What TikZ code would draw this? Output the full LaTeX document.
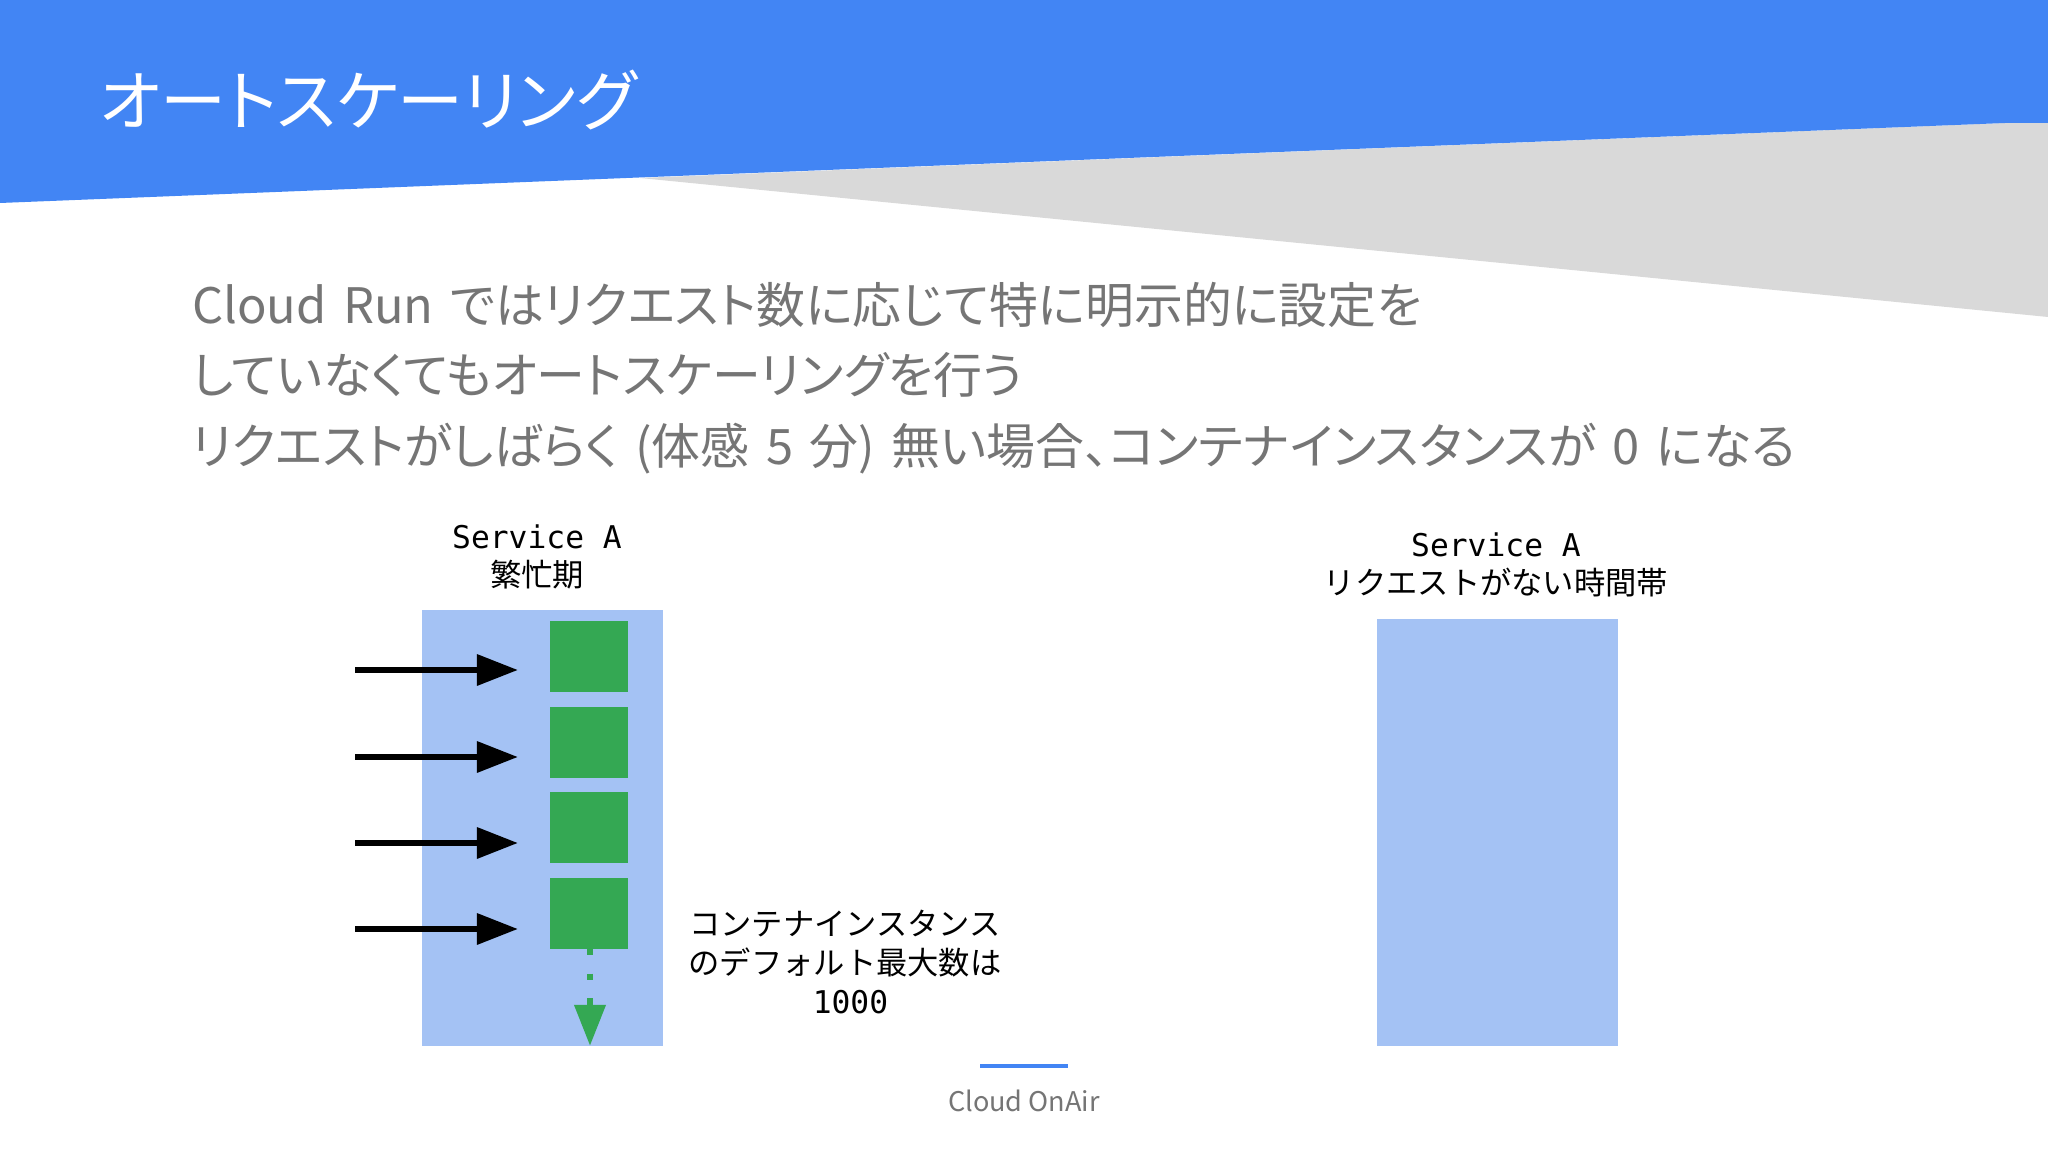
\documentclass[tikz,border=0pt]{standalone}
\usepackage{fontspec}
\usetikzlibrary{arrows.meta}
\setmainfont{Noto Sans CJK JP}
\newfontfamily\monofont{DejaVu Sans Mono}
\newfontfamily\tightfont[RawFeature=+palt]{Noto Sans CJK JP}
\newcommand{\widewords}{\spaceskip=4.7pt\relax}
\definecolor{slideblue}{HTML}{4285F4}
\definecolor{slidegray}{HTML}{D9D9D9}
\definecolor{paleblue}{HTML}{A4C2F4}
\definecolor{boxgreen}{HTML}{34A853}
\definecolor{bodygray}{HTML}{757575}
\tikzset{
  plaintext/.style={inner sep=0pt,outer sep=0pt},
  titletext/.style={plaintext,anchor=west,text=white,font=\tightfont\fontsize{18.8}{22}\selectfont},
  bodytext/.style={plaintext,anchor=west,align=left,text=bodygray,font=\tightfont\fontsize{13.9}{20}\selectfont},
  labeltext/.style={plaintext,align=center,font=\fontsize{8.9}{11}\selectfont},
  servicebox/.style={plaintext,fill=paleblue,anchor=north west},
  instance/.style={plaintext,fill=boxgreen,minimum width=0.78cm,minimum height=0.705cm,anchor=north west},
  request/.style={line width=1.8pt,-{Triangle[length=0.41cm,width=0.3cm]}},
  scaleout/.style={boxgreen,line width=1.9pt,dash pattern=on 1.9pt off 5.2pt,-{Triangle[length=0.41cm,width=0.3cm]}}
}
\begin{document}
\begin{tikzpicture}[x=0.01cm,y=-0.01cm]
  \useasboundingbox (0,0) rectangle (2048,1152);
  % Banner
  \fill[slidegray] (640,178) -- (2005,123) -- (2048,123) -- (2048,317) -- cycle;
  \fill[slideblue] (0,0) -- (2048,0) -- (2048,123) -- (2005,123) -- (0,203) -- cycle;
  \node[titletext] (title) at (100,100) {オートスケーリング};
  % Body
  \node[bodytext] (body) at (192,378) {\widewords Cloud Run ではリクエスト数に応じて特に明示的に設定を\\していなくてもオートスケーリングを行う\\\widewords リクエストがしばらく (体感 5 分) 無い場合、コンテナインスタンスが 0 になる};
  % Left service
  \node[servicebox,minimum width=2.41cm,minimum height=4.36cm] (busybox) at (422,610) {};
  \node[labeltext] (busylabel) at (537,557) {{\monofont Service A}\\繁忙期};
  % Instances
  \node[instance] (inst1) at (550,621) {};
  \node[instance] (inst2) at (550,707) {};
  \node[instance] (inst3) at (550,792) {};
  \node[instance] (inst4) at (550,878) {};
  % Requests
  \coordinate (from1) at (355,670);
  \coordinate (to1) at (518,670);
  \draw[request] (from1) -- (to1);
  \coordinate (from2) at (355,757);
  \coordinate (to2) at (518,757);
  \draw[request] (from2) -- (to2);
  \coordinate (from3) at (355,843);
  \coordinate (to3) at (518,843);
  \draw[request] (from3) -- (to3);
  \coordinate (from4) at (355,929);
  \coordinate (to4) at (518,929);
  \draw[request] (from4) -- (to4);
  % Scale out
  \coordinate (scaleend) at (590,1046);
  \draw[scaleout] (inst4.south -| scaleend) -- (scaleend);
  \node[labeltext] (maxlabel) at (845,962) {コンテナインスタンス\\のデフォルト最大数は\\\hspace*{0.35em}{\monofont 1000}};
  % Right service
  \node[servicebox,minimum width=2.41cm,minimum height=4.27cm] (idlebox) at (1377,619) {};
  \node[labeltext] (idlelabel) at (1496,565) {{\monofont Service A}\\リクエストがない時間帯};
  % Footer
  \coordinate (footleft) at (980,1066);
  \coordinate (footright) at (1068,1066);
  \draw[slideblue,line width=1.2pt] (footleft) -- (footright);
  \node[plaintext,text=bodygray,font=\fontsize{7.7}{10}\selectfont] (footer) at (1024,1101) {Cloud OnAir};
\end{tikzpicture}
\end{document}
